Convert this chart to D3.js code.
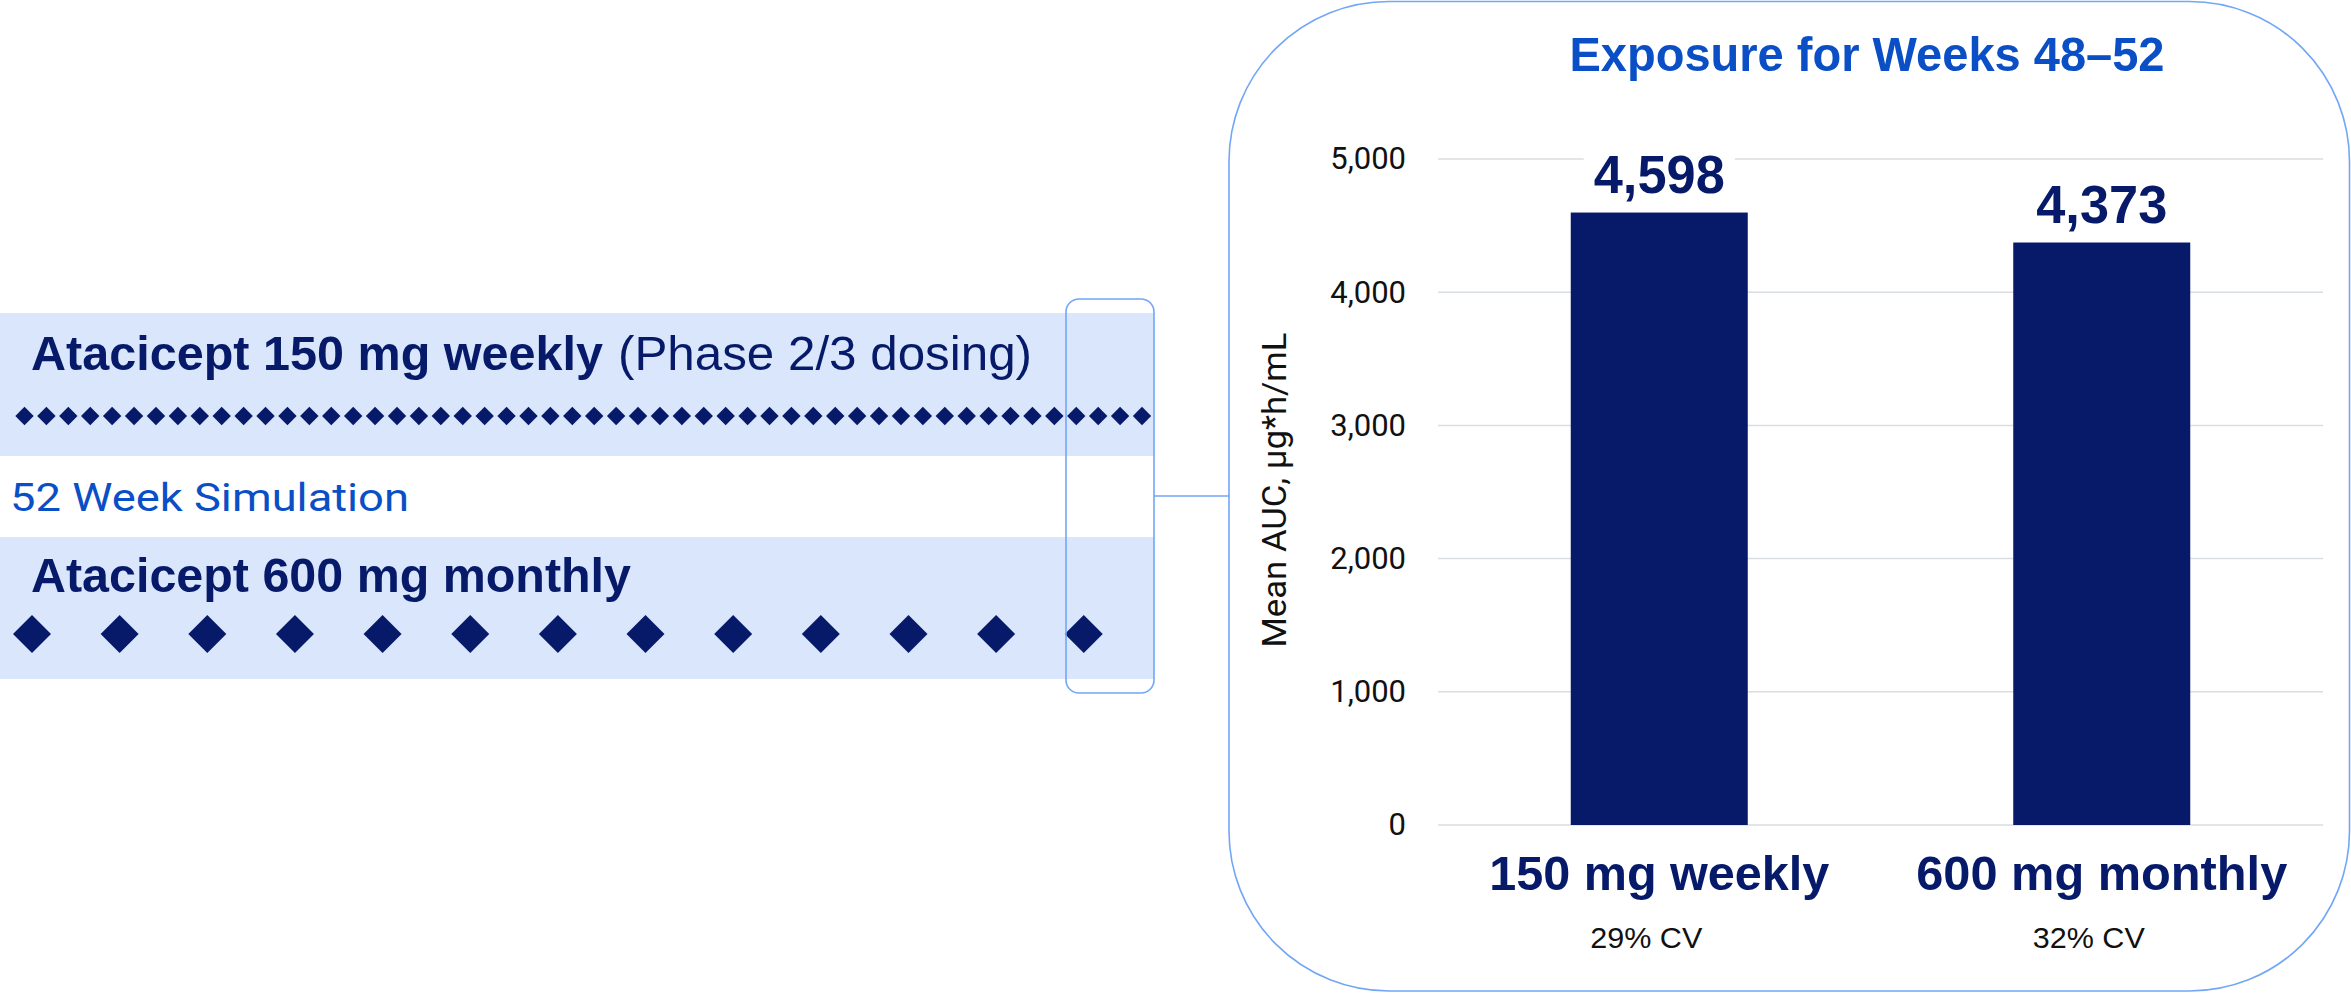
<!DOCTYPE html>
<html>
<head>
<meta charset="utf-8">
<script src="https://cdn.jsdelivr.net/npm/d3@7/dist/d3.min.js"></script>
<style>
  html, body { margin: 0; padding: 0; background: #ffffff; }
  svg { display: block; }
</style>
</head>
<body>
<svg id="chart" width="2351" height="994"></svg>
<script>
// ---- Dosing schedules (week of each dose) ----
const weeklyDoseWeeks = [0, 1, 2, 3, 4, 5, 6, 7, 8, 9, 10, 11, 12, 13, 14, 15, 16, 17, 18, 19,
  20, 21, 22, 23, 24, 25, 26, 27, 28, 29, 30, 31, 32, 33, 34, 35, 36, 37, 38, 39,
  40, 41, 42, 43, 44, 45, 46, 47, 48, 49, 50, 51];
const monthlyDoseWeeks = [0, 4, 8, 12, 16, 20, 24, 28, 32, 36, 40, 44, 48];

// ---- Exposure chart data ----
const categories = ["150 mg weekly", "600 mg monthly"];
const meanAUC = [4598, 4373];
const cvLabels = ["29% CV", "32% CV"];
const yTicks = [0, 1000, 2000, 3000, 4000, 5000];

// ---- Text ----
const regimenTitles = ["Atacicept 150 mg weekly", "Atacicept 600 mg monthly"];
const regimenNote = "(Phase 2/3 dosing)";
const simulationLabel = "52 Week Simulation";
const chartTitle = "Exposure for Weeks 48–52";
const yAxisTitle = "Mean AUC, µg*h/mL";

const NAVY = "#061a69";
const BRIGHT = "#0a4fc6";
const BAND = "#d9e6fc";
const OUTLINE = "#72a6f7";
const GRID = "#d9dee2";
const SANS = "'Liberation Sans', Arial, Helvetica, sans-serif";

const svg = d3.select("#chart");

// ================= Left: dosing schedule =================
const left = svg.append("g");
const weekX = d3.scaleLinear().domain([0, 51]).range([24.5, 1142]);

// shaded rows
left.append("rect").attr("x", 0).attr("y", 313).attr("width", 1154).attr("height", 143).attr("fill", BAND);
left.append("rect").attr("x", 0).attr("y", 537).attr("width", 1154).attr("height", 142).attr("fill", BAND);

// row titles
left.append("text").attr("x", 31).attr("y", 370)
  .attr("font-family", SANS).attr("font-weight", 700).attr("font-size", 49)
  .attr("fill", NAVY).attr("textLength", 572).attr("lengthAdjust", "spacingAndGlyphs")
  .text(regimenTitles[0]);
left.append("text").attr("x", 618).attr("y", 370)
  .attr("font-family", SANS).attr("font-weight", 400).attr("font-size", 49)
  .attr("fill", NAVY).attr("textLength", 414).attr("lengthAdjust", "spacingAndGlyphs")
  .text(regimenNote);
left.append("text").attr("x", 31).attr("y", 592)
  .attr("font-family", SANS).attr("font-weight", 700).attr("font-size", 49)
  .attr("fill", NAVY).attr("textLength", 600).attr("lengthAdjust", "spacingAndGlyphs")
  .text(regimenTitles[1]);

left.append("text").attr("x", 10).attr("y", 511)
  .attr("font-family", "Roboto, " + SANS).attr("font-weight", 400).attr("font-size", 39)
  .attr("fill", BRIGHT).attr("textLength", 399).attr("lengthAdjust", "spacingAndGlyphs")
  .text(simulationLabel);

// dose markers
const diamond = (r) => `M0,${-r}L${r},0L0,${r}L${-r},0Z`;
left.append("g").selectAll("path").data(weeklyDoseWeeks).join("path")
  .attr("transform", d => `translate(${weekX(d)},416)`)
  .attr("d", diamond(9.2)).attr("fill", NAVY);
left.append("g").attr("transform", "translate(7.5,0)")
  .selectAll("path").data(monthlyDoseWeeks).join("path")
  .attr("transform", d => `translate(${weekX(d)},634)`)
  .attr("d", diamond(19)).attr("fill", NAVY);

// highlight of the final weeks + connector
left.append("rect").attr("x", 1066).attr("y", 299).attr("width", 88).attr("height", 394)
  .attr("rx", 13).attr("fill", "none").attr("stroke", OUTLINE).attr("stroke-width", 1.6);
left.append("line").attr("x1", 1154).attr("x2", 1229).attr("y1", 496).attr("y2", 496)
  .attr("stroke", OUTLINE).attr("stroke-width", 1.6);

// ================= Right: exposure panel =================
const right = svg.append("g");
right.append("rect").attr("x", 1229).attr("y", 1.5).attr("width", 1120.5).attr("height", 989.5)
  .attr("rx", 160).attr("fill", "#ffffff").attr("stroke", OUTLINE).attr("stroke-width", 1.6);

right.append("text").attr("x", 1867).attr("y", 71).attr("text-anchor", "middle")
  .attr("font-family", SANS).attr("font-weight", 700).attr("font-size", 49)
  .attr("fill", BRIGHT).attr("textLength", 595).attr("lengthAdjust", "spacingAndGlyphs")
  .text(chartTitle);

const plot = { left: 1438, right: 2323, top: 159, bottom: 825 };
const y = d3.scaleLinear().domain([0, 5000]).range([plot.bottom, plot.top]);
const x = d3.scaleBand().domain(categories).range([plot.left, plot.right])
  .paddingInner(0.6).paddingOuter(0.3);

// gridlines
right.append("g").selectAll("line").data(yTicks).join("line")
  .attr("x1", plot.left).attr("x2", plot.right)
  .attr("y1", d => y(d)).attr("y2", d => y(d))
  .attr("stroke", GRID).attr("stroke-width", 1.5);

// y axis labels
const yAxis = d3.axisLeft(y).tickValues(yTicks).tickFormat(d3.format(",")).tickSize(0).tickPadding(0);
const yAxisG = right.append("g").attr("transform", "translate(1406,0)").call(yAxis);
yAxisG.select(".domain").remove();
yAxisG.selectAll("text")
  .attr("font-family", "Roboto, " + SANS).attr("font-size", 31).attr("fill", "#111111");

right.append("text")
  .attr("transform", "translate(1286,490) rotate(-90)")
  .attr("text-anchor", "middle")
  .attr("font-family", "Roboto, " + SANS).attr("font-size", 34).attr("fill", "#111111")
  .attr("textLength", 315).attr("lengthAdjust", "spacingAndGlyphs")
  .text(yAxisTitle);

// bars
right.append("g").selectAll("rect").data(categories).join("rect")
  .attr("x", d => x(d)).attr("width", x.bandwidth())
  .attr("y", (d, i) => y(meanAUC[i]))
  .attr("height", (d, i) => y(0) - y(meanAUC[i]))
  .attr("fill", NAVY);

// value labels with a white knock-out behind them
const valueG = right.append("g");
categories.forEach((c, i) => {
  const g = valueG.append("g");
  const bg = g.append("rect").attr("fill", "#ffffff");
  const t = g.append("text")
    .attr("x", x(c) + x.bandwidth() / 2).attr("y", y(meanAUC[i]) - 20)
    .attr("text-anchor", "middle")
    .attr("font-family", SANS).attr("font-weight", 700).attr("font-size", 53)
    .attr("fill", NAVY).attr("textLength", 131).attr("lengthAdjust", "spacingAndGlyphs")
    .text(d3.format(",")(meanAUC[i]));
  const b = t.node().getBBox();
  bg.attr("x", b.x - 10).attr("y", b.y).attr("width", b.width + 20).attr("height", b.height);
});

// category labels
const catWidths = [340, 371];
right.append("g").selectAll("text").data(categories).join("text")
  .attr("x", d => x(d) + x.bandwidth() / 2).attr("y", 890)
  .attr("text-anchor", "middle")
  .attr("font-family", SANS).attr("font-weight", 700).attr("font-size", 48)
  .attr("fill", NAVY)
  .attr("textLength", (d, i) => catWidths[i]).attr("lengthAdjust", "spacingAndGlyphs")
  .text(d => d);

// coefficient of variation
right.append("g").selectAll("text").data(categories).join("text")
  .attr("x", d => x(d) + x.bandwidth() / 2 - 13).attr("y", 948)
  .attr("text-anchor", "middle")
  .attr("font-family", SANS).attr("font-size", 30).attr("fill", "#111111")
  .attr("textLength", 112).attr("lengthAdjust", "spacingAndGlyphs")
  .text((d, i) => cvLabels[i]);
</script>
</body>
</html>
